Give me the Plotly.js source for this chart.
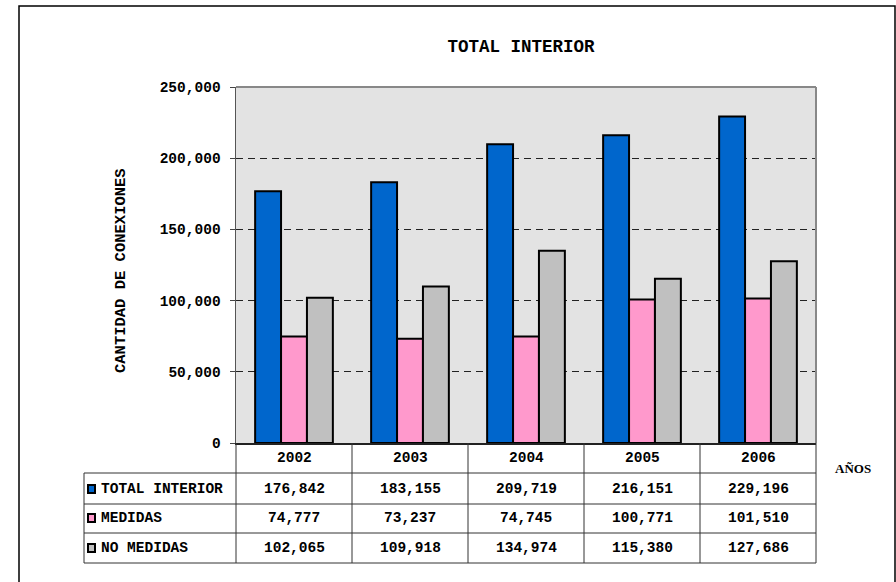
<!DOCTYPE html>
<html>
<head>
<meta charset="utf-8">
<script src="https://cdn.plot.ly/plotly-3.0.1.min.js"></script>
<style>
  body { margin: 0; background: #ffffff; }
  #chart { width: 896px; height: 582px; }
</style>
</head>
<body>
<div id="chart"></div>
<script>
// Data
const years = ['2002', '2003', '2004', '2005', '2006'];
const seriesNames = ['TOTAL INTERIOR', 'MEDIDAS', 'NO MEDIDAS'];
const totalInterior = [176842, 183155, 209719, 216151, 229196];
const medidas = [74777, 73237, 74745, 100771, 101510];
const noMedidas = [102065, 109918, 134974, 115380, 127686];
const seriesColors = ['#0066CC', '#FF99CC', '#C0C0C0'];
const yTicks = [0, 50000, 100000, 150000, 200000, 250000];

const allSeries = [totalInterior, medidas, noMedidas];

// Pixel layout of the plot box
const PLOT_L = 236, PLOT_R = 816, PLOT_T = 87, PLOT_B = 443;
const W = 896, H = 582;
const px = x => (x - PLOT_L) / (PLOT_R - PLOT_L);
const py = y => (PLOT_B - y) / (PLOT_B - PLOT_T);

const mono = 'Liberation Mono, Courier New, monospace';

function formatNumber(num) {
    return num.toString().replace(/\B(?=(\d{3})+(?!\d))/g, ',');
}

// Bars
const traces = allSeries.map((vals, i) => ({
    x: years,
    y: vals,
    name: seriesNames[i],
    type: 'bar',
    marker: {
        color: seriesColors[i],
        line: { color: '#000000', width: 2 }
    },
    hoverinfo: 'x+y+name'
}));

// Data table under the chart
const shapes = [];
const annotations = [];
const lineStyle = { color: '#333333', width: 1 };

const rowLines = [473, 504, 533, 563];
const colW = (PLOT_R - PLOT_L) / years.length;

// horizontal lines
rowLines.forEach(yy => {
    shapes.push({ type: 'line', xref: 'paper', yref: 'paper',
        x0: px(84), x1: px(PLOT_R), y0: py(yy), y1: py(yy), line: lineStyle });
});
// vertical lines
for (let i = 0; i <= years.length; i++) {
    const xx = PLOT_L + i * colW;
    shapes.push({ type: 'line', xref: 'paper', yref: 'paper',
        x0: px(xx), x1: px(xx), y0: py(PLOT_B), y1: py(563), line: lineStyle });
}
shapes.push({ type: 'line', xref: 'paper', yref: 'paper',
    x0: px(84), x1: px(84), y0: py(473), y1: py(563), line: lineStyle });

// outer frame
shapes.push({ type: 'rect', xref: 'paper', yref: 'paper',
    x0: px(19), x1: px(895), y0: py(6), y1: py(595),
    line: { color: '#000000', width: 1.5 }, fillcolor: 'rgba(0,0,0,0)' });

// column centres in paper units, one per year
const colCenter = j => px(PLOT_L + (j + 0.5) * colW);

// year headers
years.forEach((yr, j) => {
    annotations.push({ x: colCenter(j), xref: 'paper', y: py(458), yref: 'paper',
        text: yr, showarrow: false, xanchor: 'center', yanchor: 'middle',
        font: { family: mono, size: 14.5, color: '#000000', weight: 'bold' } });
});

// rows
const rowCenters = [489, 518, 548];
allSeries.forEach((vals, i) => {
    const yc = rowCenters[i];
    // legend key
    shapes.push({ type: 'rect', xref: 'paper', yref: 'paper',
        x0: px(88), x1: px(95), y0: py(yc - 4), y1: py(yc + 4),
        fillcolor: seriesColors[i], line: { color: '#000000', width: 2 } });
    annotations.push({ x: px(99), xref: 'paper', y: py(yc), yref: 'paper',
        text: seriesNames[i], showarrow: false, xanchor: 'left', yanchor: 'middle',
        font: { family: mono, size: 14.5, color: '#000000', weight: 'bold' } });
    vals.forEach((v, j) => {
        annotations.push({ x: colCenter(j), xref: 'paper', y: py(yc), yref: 'paper',
            text: formatNumber(v), showarrow: false, xanchor: 'center', yanchor: 'middle',
            font: { family: mono, size: 14.5, color: '#000000', weight: 'bold' } });
    });
});

// axis labels
annotations.push({ x: px(121), xref: 'paper', y: py(271), yref: 'paper',
    text: 'CANTIDAD DE CONEXIONES', textangle: -90, showarrow: false,
    xanchor: 'center', yanchor: 'middle',
    font: { family: mono, size: 15.5, color: '#000000', weight: 'bold' } });
annotations.push({ x: px(853), xref: 'paper', y: py(468), yref: 'paper',
    text: 'AÑOS', showarrow: false, xanchor: 'center', yanchor: 'middle',
    font: { family: 'Liberation Serif, Times New Roman, serif', size: 13, color: '#000000', weight: 'bold' } });

const layout = {
    width: W,
    height: H,
    title: {
        text: 'TOTAL INTERIOR',
        font: { family: mono, size: 17.5, color: '#000000', weight: 'bold' },
        x: 521 / W,
        xanchor: 'center',
        y: 1 - 46 / H,
        yanchor: 'middle'
    },
    barmode: 'group',
    bargap: 0.33,
    bargroupgap: 0,
    showlegend: false,
    margin: { l: PLOT_L, r: W - PLOT_R, t: PLOT_T, b: H - PLOT_B, pad: 0 },
    paper_bgcolor: '#ffffff',
    plot_bgcolor: '#e3e3e3',
    xaxis: {
        type: 'category',
        range: [-0.5, years.length - 0.5],
        showticklabels: false,
        ticks: '',
        showgrid: false,
        showline: true,
        linecolor: '#222222',
        linewidth: 1.5,
        mirror: false,
        zeroline: false
    },
    yaxis: {
        range: [0, 250000],
        tickvals: yTicks,
        ticktext: yTicks.map(formatNumber),
        tickfont: { family: mono, size: 14.5, color: '#000000', weight: 'bold' },
        ticks: 'outside',
        ticklen: 5,
        tickcolor: '#444444',
        ticklabelstandoff: 6,
        showline: true,
        linecolor: '#555555',
        linewidth: 1.5,
        showgrid: true,
        gridcolor: '#222222',
        gridwidth: 1,
        griddash: '7px,5px',
        zeroline: false
    },
    shapes: shapes.concat([
        // plot box: grey top and right border
        { type: 'line', xref: 'paper', yref: 'paper', x0: 0, x1: 1, y0: 1, y1: 1,
          line: { color: '#888888', width: 2 } },
        { type: 'line', xref: 'paper', yref: 'paper', x0: 1, x1: 1, y0: 0, y1: 1,
          line: { color: '#888888', width: 2 } }
    ]),
    annotations: annotations
};

const config = { displayModeBar: false, staticPlot: true };

Plotly.newPlot('chart', traces, layout, config);
</script>
</body>
</html>
